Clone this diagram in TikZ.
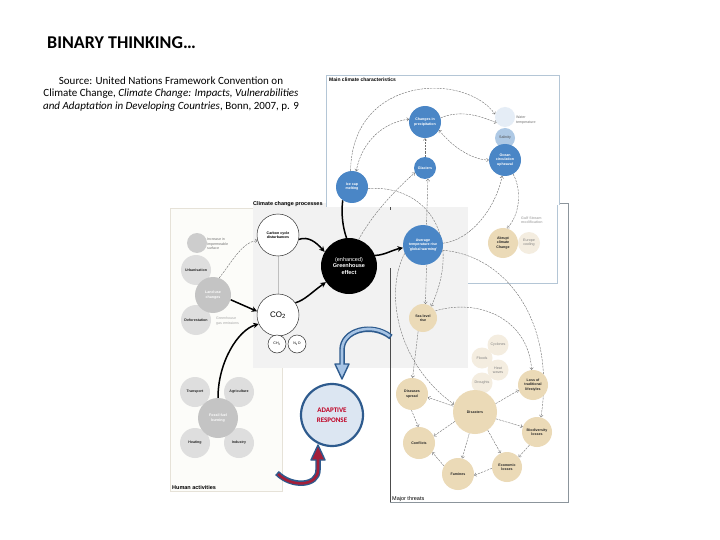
\documentclass[tikz,border=0pt]{standalone}
\usepackage{fontspec}
\setmainfont{Carlito}
\newfontfamily\figfont{Liberation Sans}
\usetikzlibrary{arrows.meta}
\definecolor{cblue}{HTML}{4A86C6}
\definecolor{cbeige}{HTML}{EBDAB7}
\definecolor{cpale}{HTML}{F4EDE0}
\definecolor{cgrayL}{HTML}{DEDEDE}
\definecolor{cgrayM}{HTML}{C4C4C4}
\definecolor{cline}{HTML}{707070}
\definecolor{adblue}{HTML}{2E5B8E}
\definecolor{adlight}{HTML}{A7C4E5}
\definecolor{adfill}{HTML}{DCE6F2}
\definecolor{adred}{HTML}{A31F3A}
\definecolor{adtext}{HTML}{C00022}
\definecolor{panelA}{HTML}{B4C6D6}
\definecolor{cprocbg}{HTML}{F2F2F2}
\definecolor{cpanD}{HTML}{FCFCF9}
\definecolor{cpanDb}{HTML}{E6E2D8}
\definecolor{cmt}{HTML}{8C959C}
\pgfdeclarelayer{bg}
\pgfdeclarelayer{arr}
\pgfsetlayers{bg,arr,main}
\tikzset{
  nd/.style={circle, inner sep=0pt, align=center, font=\figfont\bfseries\fontsize{3.6}{4.2}\selectfont},
  bluen/.style={nd, fill=cblue, text=white},
  beigen/.style={nd, fill=cbeige, text=black!85},
  palen/.style={nd, fill=cpale, text=black!50, font=\figfont\fontsize{3.6}{4.2}\selectfont},
  grayn/.style={nd, fill=cgrayL, text=black!85},
  whiten/.style={nd, draw=black!80, line width=0.5pt, fill=white},
  note/.style={inner sep=0pt, align=left, anchor=west, font=\figfont\fontsize{3.6}{4.4}\selectfont},
  plabel/.style={inner sep=0pt, anchor=base west, font=\figfont\bfseries\fontsize{5.5}{6}\selectfont},
  src/.style={inner sep=0pt, anchor=base, font=\fontsize{11}{12}\selectfont},
  tarr/.style={draw=cline, line width=0.4pt, dash pattern=on 2.2pt off 1pt, -{Straight Barb[length=2pt,width=3.6pt]}},
  tarrb/.style={tarr, {Straight Barb[length=2pt,width=3.6pt]}-{Straight Barb[length=2pt,width=3.6pt]}},
  karr/.style={draw=black, line width=1.5pt, -{Stealth[length=5.5pt,width=5.5pt]}},
}
\begin{document}
\begin{tikzpicture}[x=1pt,y=-1pt]
\useasboundingbox (0,0) rectangle (720,540);

% ---------- title and source ----------
\node[anchor=base west, inner sep=0pt, font=\bfseries\fontsize{18}{20}\selectfont] (title) at (47,49) {BINARY THINKING…};
\node[src] (s1) at (171,84.5) {Source: United Nations Framework Convention on};
\node[src] (s2) at (171,97) {Climate Change, \textit{Climate Change: Impacts, Vulnerabilities}};
\node[src] (s3) at (171,109.5) {\textit{and Adaptation in Developing Countries}, Bonn, 2007, p. 9};

% ---------- panels ----------
\begin{pgfonlayer}{bg}
\fill[white] (0,0) rectangle (720,540);
\filldraw[fill=cpanD, draw=cpanDb, line width=0.8pt] (170,208) rectangle (282,491);
\filldraw[fill=white, draw=cmt, line width=0.6pt] (390,203) rectangle (568,502);
\fill[cprocbg] (253,203) rectangle (468,368);
\draw[black!70, line width=0.7pt] (390,268) -- (390,502);
\draw[black!70, line width=0.7pt] (390,197) -- (390,210);
\node[plabel] (lcp) at (253,206) {Climate change processes};
\fill[white] (326,75) rectangle (559,207);
\draw[panelA, line width=0.9pt] (326,207) -- (326,75) -- (559,75) -- (559,205);
\fill[white] (468,205) rectangle (557,283);
\draw[panelA, line width=0.9pt] (557,205) -- (557,283) -- (468,283);
\end{pgfonlayer}
\node[plabel, font=\figfont\bfseries\fontsize{5}{6}\selectfont] (lmc) at (329,82) {Main climate characteristics};
\node[plabel] (lha) at (172,489) {Human activities};
\node[plabel, font=\figfont\fontsize{5.5}{6}\selectfont] (lmt) at (392,500) {Major threats};

% ---------- main climate characteristics ----------
\node[bluen, minimum size=32pt] (prec) at (425,122) {Changes in\\precipitation};
\node[bluen, minimum size=32pt] (ice) at (352,187) {Ice cap\\melting};
\node[bluen, minimum size=22pt] (glac) at (425,168) {Glaciers};
\node[nd, fill=adfill!80!cblue!40, minimum size=20pt] (wtemp) at (505,117) {};
\node[note, text=black!55] (wtl) at (516,120) {Water\\temperature};
\node[nd, fill=cblue!45, text=black!70, font=\figfont\fontsize{3.6}{4.2}\selectfont, minimum size=20pt] (sal) at (505,138) {Salinity};
\node[bluen, minimum size=32pt] (ocean) at (505,160) {Ocean\\circulation\\upheaval};
\node[note, text=black!30, font=\figfont\bfseries\fontsize{3.6}{4.4}\selectfont] (gsl) at (521,220) {Gulf Stream\\modification};
\node[beigen, minimum size=30pt] (abrupt) at (503,243) {Abrupt\\climate\\Change};
\node[palen, minimum size=22pt] (europe) at (529,243) {Europe\\cooling};

% ---------- climate change processes ----------
\node[whiten, minimum size=42pt] (ccd) at (278,235) {Carbon cycle\\disturbances};
\node[nd, fill=black, text=white, minimum size=56pt, font=\figfont\fontsize{5.5}{6.6}\selectfont] (ghe) at (349,266) {(enhanced)\\\textbf{Greenhouse}\\\textbf{effect}};
\node[whiten, minimum size=42pt, font=\figfont\fontsize{8}{9}\selectfont] (co2) at (278,315) {CO\textsubscript{2}};
\node[whiten, minimum size=18pt, font=\figfont\fontsize{3.6}{4}\selectfont] (ch4) at (277,344) {CH\textsubscript{4}};
\node[whiten, minimum size=18pt, font=\figfont\fontsize{3.6}{4}\selectfont] (n2o) at (297,344) {N\textsubscript{2}O};
\node[bluen, minimum size=40pt] (avg) at (423,245) {Average\\temperature rise\\`global warming'};
\node[beigen, minimum size=28pt] (sea) at (423,318) {Sea level\\rise};

% ---------- human activities (left) ----------
\node[nd, fill=cgrayM!85, minimum size=20pt] (impc) at (197,243) {};
\node[note, text=black!55] (imp) at (207,244) {Increase in\\impermeable\\surface};
\node[grayn, minimum size=30pt] (urb) at (196,270) {Urbanisation};
\node[grayn, minimum size=30pt] (def) at (196,320) {Deforestation};
\node[nd, fill=cgrayM, text=white, minimum size=36pt] (luc) at (213,295) {Land use\\changes};
\node[note, text=black!35] (ggl) at (216,321) {Greenhouse\\gas emissions};
\node[grayn, minimum size=30pt] (tra) at (195,392) {Transport};
\node[grayn, minimum size=30pt] (agr) at (239,392) {Agriculture};
\node[grayn, minimum size=30pt] (hea) at (195,443) {Heating};
\node[grayn, minimum size=30pt] (ind) at (239,443) {Industry};
\node[nd, fill=cgrayM, text=white, minimum size=40pt] (ffb) at (218,418) {Fossil fuel\\burning};

% ---------- major threats ----------
\node[palen, minimum size=21pt] (cyc) at (498,345) {Cyclones};
\node[palen, minimum size=21pt] (flo) at (482,358) {Floods};
\node[palen, minimum size=21pt] (hw) at (498,370) {Heat\\waves};
\node[palen, minimum size=21pt] (dro) at (482,383) {Droughts};
\node[beigen, minimum size=44pt] (dis) at (475,412) {Disasters};
\node[beigen, minimum size=32pt] (dsp) at (412,394) {Diseases\\spread};
\node[beigen, minimum size=30pt] (los) at (533,385) {Loss of\\traditional\\lifestyles};
\node[beigen, minimum size=30pt] (bio) at (537,432) {Biodiversity\\losses};
\node[beigen, minimum size=30pt] (eco) at (507,467) {Economic\\losses};
\node[beigen, minimum size=32pt] (fam) at (458,474) {Famines};
\node[beigen, minimum size=32pt] (con) at (419,443) {Conflicts};

% ---------- connectors ----------
\begin{pgfonlayer}{arr}
\draw[tarr] (ice.95) .. controls (352,75) and (465,72) .. (wtemp.165);
\draw[tarrb] (prec.170) .. controls (385,122) and (362,140) .. (ice.75);
\draw[tarr] (prec.15) .. controls (460,110) and (478,115) .. (wtemp.215);
\draw[tarrb] (prec.-30) .. controls (455,150) and (475,160) .. (ocean.180);
\draw[tarr] (glac.north) -- (prec.south);
\draw[tarr] (avg.80) -- (glac.-75);
\draw[tarr] (ghe.70) .. controls (372,215) and (395,190) .. (glac.205);
\draw[tarr] (ice.-5) .. controls (430,185) and (462,240) .. (sea.55);
\draw[tarr] (ocean.-60) .. controls (522,190) and (520,215) .. (abrupt.75);
\draw[tarr] (avg.5) .. controls (470,240) and (495,210) .. (ocean.-100);
\draw[tarr] (avg.-15) .. controls (505,255) and (556,320) .. (bio.75);
\draw[tarr] (avg.-80) -- (sea.80);
\draw[tarr] (sea.30) .. controls (478,298) and (528,318) .. (los.95);
\draw[tarr] (sea.-110) -- (dsp.88);
\draw[tarr] (avg.205) .. controls (385,290) and (395,362) .. (dis.160);
\draw[tarr] (luc.70) .. controls (232,262) and (242,242) .. (ccd.195);
\draw[black!25, line width=0.4pt] (ccd.south) -- (co2.north);
% major threats
\draw[tarr] (dis.165) -- (dsp.-12);
\draw[tarr] (dis.205) -- (con.25);
\draw[tarr] (dis.22) -- (los.200);
\draw[tarr] (dis.-18) -- (bio.160);
\draw[tarr] (dis.-55) -- (eco.115);
\draw[tarr] (dis.-105) -- (fam.75);
\draw[tarr] (dsp.-92) -- (con.92);
\draw[tarr] (fam.150) -- (con.-35);
\draw[tarr] (eco.185) -- (fam.-5);
\draw[tarr] (bio.-120) -- (eco.40);
% thick black
\draw[karr] (ccd.-12) .. controls (308,236) and (316,242) .. (ghe.150);
\draw[karr] (co2.35) .. controls (305,300) and (312,292) .. (ghe.215);
\draw[karr] (ghe.22) .. controls (385,255) and (392,250) .. (avg.188);
\draw[draw=black, line width=1.5pt] (ice.235) .. controls (341,215) and (343,228) .. (ghe.95);
\draw[karr] (luc.-15) -- (co2.170);
\draw[karr] (ffb.north) .. controls (218,362) and (238,330) .. (co2.205);
\end{pgfonlayer}

% ---------- adaptive response ----------
\node[circle, draw=adblue, line width=2.2pt, fill=adfill, minimum size=62pt, inner sep=0pt, align=center,
      text=adtext, font=\bfseries\fontsize{7}{10}\selectfont] (ad) at (332,415) {ADAPTIVE\\RESPONSE};
\coordinate (upS) at (391,337);
\coordinate (loS) at (277,473);
\draw[adblue, line width=5.5pt] (upS) .. controls (372,322) and (342,330) .. (342,350) -- (342,365);
\filldraw[fill=adlight, draw=adblue, line width=1.4pt, line join=round] (335,364) -- (349,364) -- (342,379) -- cycle;
\draw[adlight, line width=2.6pt, shorten <=1.5pt] (upS) .. controls (372,322) and (342,330) .. (342,350) -- (342,367);
\draw[adblue, line width=5.5pt] (loS) .. controls (292,488) and (318,486) .. (318,470) -- (318,459);
\filldraw[fill=adred, draw=adblue, line width=1.4pt, line join=round] (311,460) -- (325,460) -- (318,445) -- cycle;
\draw[adred, line width=2.6pt, shorten <=1.5pt] (loS) .. controls (292,488) and (318,486) .. (318,470) -- (318,457);
\end{tikzpicture}
\end{document}
